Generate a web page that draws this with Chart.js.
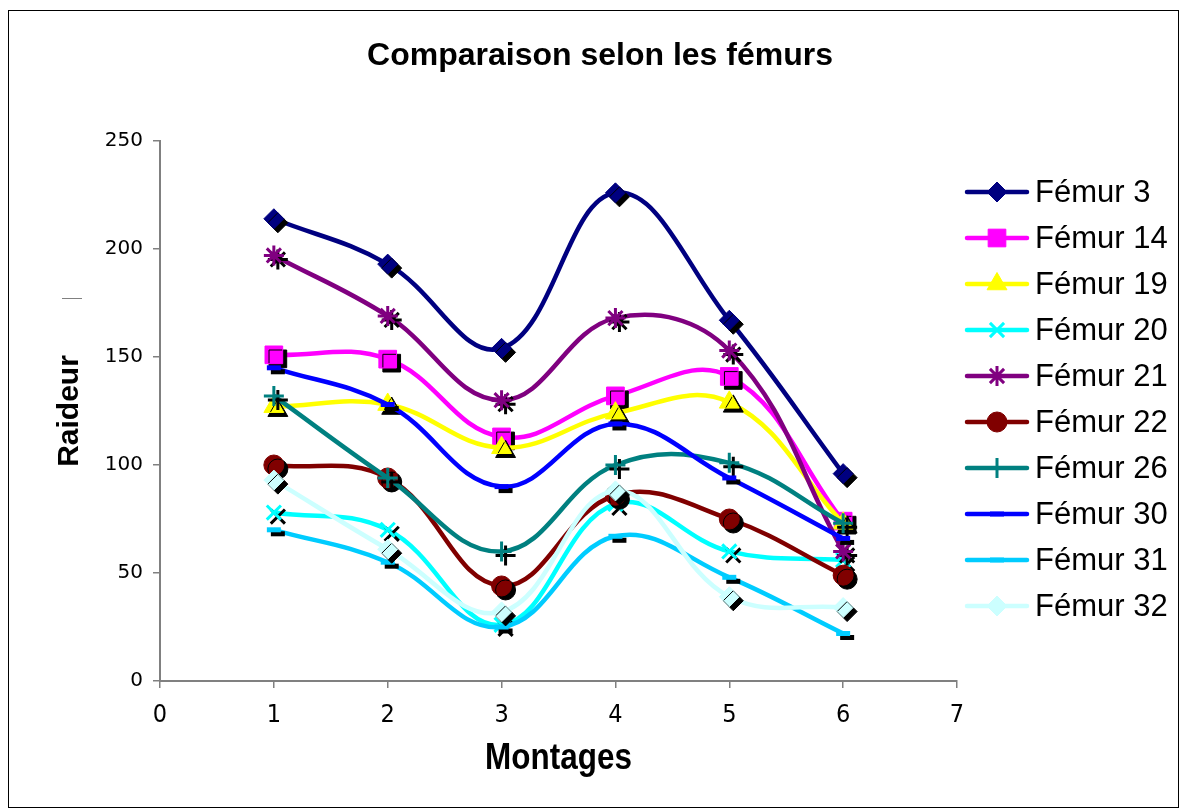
<!DOCTYPE html>
<html>
<head>
<meta charset="utf-8">
<title>Comparaison selon les fémurs</title>
<script src="https://cdn.jsdelivr.net/npm/chart.js@4.4.1/dist/chart.umd.min.js"></script>
<style>
  html, body { margin: 0; padding: 0; background: #fff; }
  canvas { display: block; }
</style>
</head>
<body>
<canvas id="femurChart" width="1182" height="810"></canvas>
<script>
// Montages (x axis)
const montages = [1, 2, 3, 4, 5, 6];

// Raideur per femur, one value per montage
const femur3  = [214, 193, 154, 226, 167, 96];
const femur14 = [151, 149, 113, 132, 141, 74];
const femur19 = [127, 128, 108, 124, 129, 73];
const femur20 = [78, 70, 26, 82, 60, 56];
const femur21 = [197, 169, 130, 168, 153, 60];
const femur22 = [100, 94, 44, 86, 75, 49];
const femur26 = [132, 94, 60, 100, 101, 73];
const femur30 = [145, 128, 90, 119, 94, 66];
const femur31 = [70, 55, 25, 67, 48, 22];
const femur32 = [93, 61, 32, 88, 39, 34];

const seriesNames = ['Fémur 3', 'Fémur 14', 'Fémur 19', 'Fémur 20', 'Fémur 21',
                     'Fémur 22', 'Fémur 26', 'Fémur 30', 'Fémur 31', 'Fémur 32'];
const seriesValues = [femur3, femur14, femur19, femur20, femur21,
                      femur22, femur26, femur30, femur31, femur32];

const xTicks = [0, 1, 2, 3, 4, 5, 6, 7];
const yTicks = [0, 50, 100, 150, 200, 250];

const chartTitle = 'Comparaison selon les fémurs';
const xTitle = 'Montages';
const yTitle = 'Raideur';

// Excel-style colours and markers
const seriesColors = ['#000080', '#FF00FF', '#FFFF00', '#00FFFF', '#800080',
                      '#800000', '#008080', '#0000FF', '#00CCFF', '#CCFFFF'];
const seriesMarkers = ['rectRot', 'rect', 'triangle', 'crossRot', 'star',
                       'circle', 'cross', 'line', 'line', 'rectRot'];
const markerRadius = [10, 12.5, 11.5, 10, 10, 10, 10, 7, 7, 10];
const markerBorder = [1, 1, 1, 3, 3, 1, 3, 5, 5, 1];

const datasets = seriesNames.map((name, i) => ({
    label: name,
    data: montages.map((m, j) => ({ x: m, y: seriesValues[i][j] })),
    showLine: true,
    tension: 0.4,
    borderColor: seriesColors[i],
    borderWidth: 4.5,
    backgroundColor: seriesColors[i],
    pointStyle: seriesMarkers[i],
    pointRadius: markerRadius[i],
    pointBorderWidth: markerBorder[i],
    pointBorderColor: seriesColors[i],
    pointBackgroundColor: seriesColors[i],
    order: seriesNames.length - i
}));

// black drop shadow under the markers only (not under the curves)
const markerShadow = {
    id: 'markerShadow',
    beforeDatasetDraw(chart, args) {
        const line = args.meta.dataset;
        if (line && !line._withShadow) {
            const drawLine = line.draw;
            line.draw = function (ctx, ...rest) {
                drawLine.call(this, ctx, ...rest);
                ctx.shadowColor = '#000';
                ctx.shadowBlur = 0;
                ctx.shadowOffsetX = 4;
                ctx.shadowOffsetY = 4;
            };
            line._withShadow = true;
        }
    },
    afterDatasetDraw(chart) {
        const ctx = chart.ctx;
        ctx.shadowColor = 'rgba(0,0,0,0)';
        ctx.shadowOffsetX = 0;
        ctx.shadowOffsetY = 0;
    }
};

// legend with a line segment through each marker, like Excel
const lineLegend = {
    id: 'lineLegend',
    afterDraw(chart) {
        const ctx = chart.ctx;
        ctx.save();
        chart.data.datasets.forEach((ds, i) => {
            const y = 192 + i * 46;
            ctx.strokeStyle = ds.borderColor;
            ctx.lineWidth = 4.5;
            ctx.lineCap = 'round';
            ctx.beginPath();
            ctx.moveTo(967, y);
            ctx.lineTo(1027, y);
            ctx.stroke();
            ctx.lineCap = 'butt';
            ctx.fillStyle = ds.pointBackgroundColor;
            ctx.strokeStyle = ds.pointBorderColor;
            ctx.lineWidth = ds.pointBorderWidth;
            Chart.helpers.drawPoint(ctx, {
                pointStyle: ds.pointStyle,
                radius: ds.pointRadius,
                rotation: 0,
                borderWidth: ds.pointBorderWidth
            }, 997, y);
            ctx.fillStyle = '#000';
            ctx.font = '31px "Liberation Sans", Arial, sans-serif';
            ctx.textBaseline = 'middle';
            ctx.textAlign = 'left';
            ctx.fillText(ds.label, 1035, y + 1);
        });
        ctx.restore();
    }
};

// frame, chart title (centred on the whole object) and the narrow x-axis title
const chartFrame = {
    id: 'chartFrame',
    beforeDraw(chart) {
        const ctx = chart.ctx;
        ctx.save();
        ctx.fillStyle = '#fff';
        ctx.fillRect(0, 0, chart.width, chart.height);
        ctx.restore();
    },
    afterDraw(chart) {
        const ctx = chart.ctx;
        const area = chart.chartArea;
        ctx.save();
        ctx.strokeStyle = '#000';
        ctx.lineWidth = 1;
        ctx.strokeRect(8.5, 10.5, 1170, 797);
        ctx.strokeStyle = '#808080';
        ctx.beginPath();
        ctx.moveTo(62, 298.5);
        ctx.lineTo(82, 298.5);
        ctx.stroke();

        ctx.fillStyle = '#000';
        ctx.textAlign = 'center';
        ctx.textBaseline = 'middle';
        ctx.font = 'bold 32px "Liberation Sans", Arial, sans-serif';
        ctx.fillText(chartTitle, 600, 56);

        ctx.translate((area.left + area.right) / 2, 759);
        ctx.scale(0.85, 1);
        ctx.font = 'bold 37px "Liberation Sans", Arial, sans-serif';
        ctx.fillText(xTitle, 0, 0);
        ctx.restore();
    }
};

const axisGrid = {
    drawOnChartArea: false,
    drawTicks: true,
    tickLength: 7,
    color: '#808080',
    lineWidth: 1.5
};

new Chart(document.getElementById('femurChart'), {
    type: 'scatter',
    data: { datasets: datasets },
    plugins: [chartFrame, markerShadow, lineLegend],
    options: {
        responsive: false,
        animation: false,
        events: [],
        layout: { padding: { left: 48, right: 225, top: 141, bottom: 26 } },
        plugins: {
            legend: { display: false },
            tooltip: { enabled: false },
            title: { display: false }
        },
        scales: {
            x: {
                type: 'linear',
                min: xTicks[0],
                max: xTicks[xTicks.length - 1],
                afterBuildTicks(scale) { scale.ticks = xTicks.map(v => ({ value: v })); },
                afterFit(scale) { scale.height = 103; },
                ticks: {
                    color: '#000',
                    padding: 12,
                    maxRotation: 0,
                    font: { family: '"Liberation Sans Narrow", "DejaVu Sans Condensed", sans-serif', size: 25 }
                },
                grid: axisGrid,
                border: { color: '#808080', width: 2 },
                title: { display: false }
            },
            y: {
                min: yTicks[0],
                max: yTicks[yTicks.length - 1],
                afterBuildTicks(scale) { scale.ticks = yTicks.map(v => ({ value: v })); },
                afterFit(scale) { scale.width = 112; },
                ticks: {
                    color: '#000',
                    padding: 10,
                    font: { family: '"DejaVu Sans", Verdana, sans-serif', size: 20 }
                },
                grid: axisGrid,
                border: { color: '#808080', width: 2 },
                title: {
                    display: true,
                    text: yTitle,
                    color: '#000',
                    padding: 4,
                    font: { family: '"Liberation Sans", Arial, sans-serif', size: 30, weight: 'bold' }
                }
            }
        }
    }
});
</script>
</body>
</html>
